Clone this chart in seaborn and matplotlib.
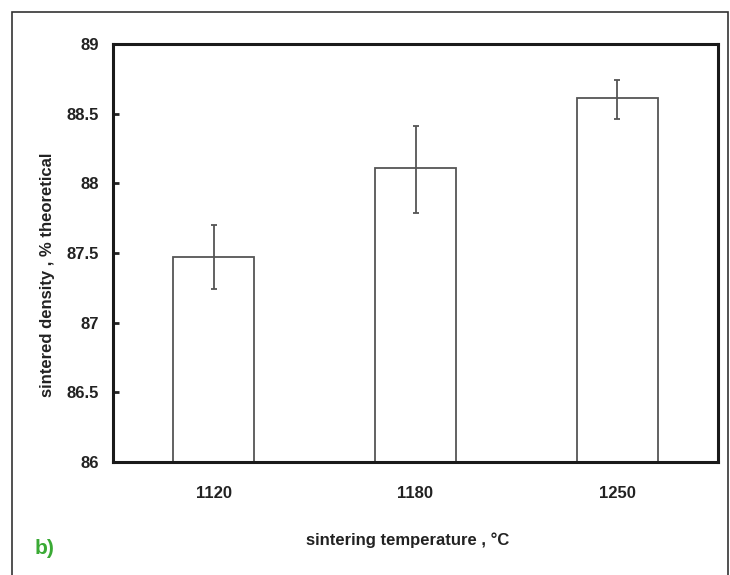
import matplotlib
matplotlib.use("Agg")
import matplotlib.pyplot as plt
import seaborn as sns
import pandas as pd
from matplotlib.patches import Rectangle

temperatures = ["1120", "1180", "1250"]
density = [87.47, 88.11, 88.61]
err_low = [87.24, 87.79, 88.46]
err_high = [87.70, 88.41, 88.74]
y_ticks = [86, 86.5, 87, 87.5, 88, 88.5, 89]
y_tick_labels = ["86", "86.5", "87", "87.5", "88", "88.5", "89"]

sns.set_style("white")
fam = ["Liberation Sans Narrow", "Liberation Sans", "DejaVu Sans"]
plt.rcParams["font.family"] = fam

df = pd.DataFrame({"temp": temperatures, "density": density})

fig = plt.figure(figsize=(7.3, 5.75), dpi=100)
ax = fig.add_axes([113/730, 1 - 462/575, (718 - 113)/730, (462 - 44)/575])

sns.barplot(data=df, x="temp", y="density", ax=ax, color="white",
            edgecolor="#555555", linewidth=1.3, width=0.40, errorbar=None)
for p in ax.patches:
    p.set_y(86)
    p.set_height(p.get_height() - 86)

xs = range(len(temperatures))
yerr = [[d - l for d, l in zip(density, err_low)], [h - d for d, h in zip(density, err_high)]]
ax.errorbar(list(xs), density, yerr=yerr, fmt="none", ecolor="#555555",
            elinewidth=1.3, capsize=2.5, capthick=1.3)

ax.set_ylim(86, 89)
ax.set_xlim(-0.5, 2.5)
ax.set_yticks(y_ticks)
ax.set_yticklabels(y_tick_labels, fontsize=12, fontweight="bold")
ax.set_xticks(list(xs))
ax.set_xticklabels(temperatures, fontsize=12, fontweight="bold")
ax.tick_params(axis="y", direction="in", length=4, width=2, left=True, pad=10, colors="#222222")
ax.tick_params(axis="x", length=0, pad=17, colors="#222222")
for s in ax.spines.values():
    s.set_visible(True)
    s.set_color("#1a1a1a")
    s.set_linewidth(2.2)

ax.set_xlabel("sintering temperature , °C", fontsize=12, fontweight="bold", color="#222222")
ax.set_ylabel("sintered density , % theoretical", fontsize=12, fontweight="bold", color="#222222")
ax.xaxis.set_label_coords((408 - 113) / 605, (462 - 540) / 418)
ax.yaxis.set_label_coords((48 - 113) / 605, (462 - 275) / 418)
ax.xaxis.label.set_va("center")
ax.yaxis.label.set_va("center")

fig.text(35/730, 1 - 548/575, "b)", color="#3aaa35", fontsize=15, fontweight="bold",
         va="center", ha="left", family=["Liberation Sans", "DejaVu Sans"])

fig.patches.append(Rectangle((12/730, -0.05), (728 - 12)/730, 1.05 - 12/575,
                             transform=fig.transFigure, fill=False,
                             edgecolor="#333333", linewidth=1.2))

fig.savefig("out.png", dpi=100)
